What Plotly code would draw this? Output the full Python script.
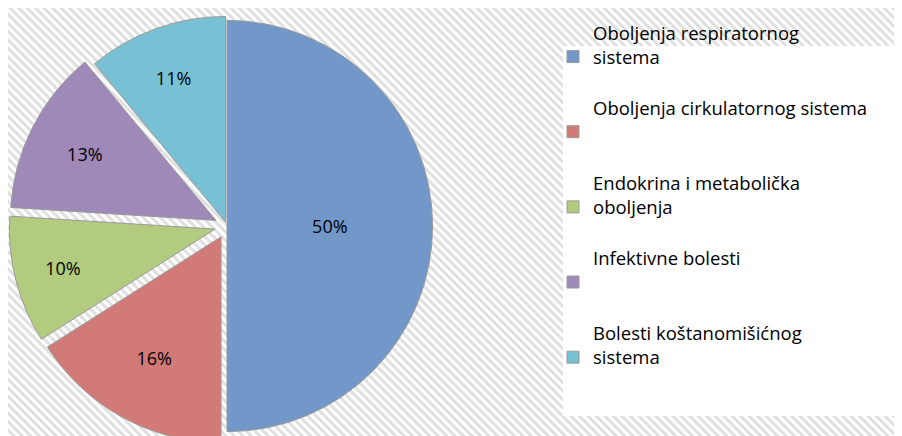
import base64
import plotly.graph_objects as go

# ---- data ----
categories = [
    "Oboljenja respiratornog<br>sistema<br> ",
    "Oboljenja cirkulatornog sistema<br> <br> ",
    "Endokrina i metabolička<br>oboljenja<br> ",
    "Infektivne bolesti<br> <br> ",
    "Bolesti koštanomišićnog<br>sistema<br> ",
]
values = [50, 16, 10, 13, 11]
colors = ["#7198c9", "#d27a77", "#b2cb7f", "#9e89b9", "#78c0d4"]
pulls = [0, 0.06, 0.06, 0.06, 0.02]

W, H = 902, 436
FONT = "Open Sans, Lato, sans-serif"

# hatched background (diagonal stripes)
svg = (
    f"<svg xmlns='http://www.w3.org/2000/svg' width='{W}' height='{H}'>"
    "<defs><pattern id='p' width='6' height='6' patternUnits='userSpaceOnUse' "
    "patternTransform='rotate(-45)'><rect width='3' height='6' fill='#e0e0e0'/></pattern></defs>"
    f"<rect width='{W}' height='{H}' fill='white'/>"
    f"<rect width='{W}' height='{H}' fill='url(#p)'/></svg>"
)
bg_src = "data:image/svg+xml;base64," + base64.b64encode(svg.encode()).decode()

fig = go.Figure(
    go.Pie(
        labels=categories,
        values=values,
        sort=False,
        direction="clockwise",
        rotation=0,
        pull=pulls,
        marker=dict(colors=colors, line=dict(color="#9a9a9a", width=1)),
        textinfo="percent",
        textposition="inside",
        insidetextorientation="horizontal",
        textfont=dict(family=FONT, size=18, color="black"),
        domain=dict(x=[0, 438 / W], y=[0, 1]),
        hoverinfo="label+percent",
    )
)

fig.update_layout(
    width=W,
    height=H,
    margin=dict(l=0, r=0, t=0, b=0),
    paper_bgcolor="white",
    plot_bgcolor="white",
    font=dict(family=FONT, size=18.5, color="black"),
    showlegend=True,
    legend=dict(
        x=545 / W,
        xanchor="left",
        y=1 - 6 / H,
        yanchor="top",
        bgcolor="rgba(0,0,0,0)",
        font=dict(family=FONT, size=18.5, color="black"),
        valign="middle",
    ),
    images=[
        dict(
            source=bg_src,
            xref="paper",
            yref="paper",
            x=0,
            y=1,
            sizex=1,
            sizey=1,
            xanchor="left",
            yanchor="top",
            sizing="stretch",
            layer="below",
        )
    ],
    shapes=[
        dict(
            type="rect",
            xref="paper",
            yref="paper",
            x0=555 / W,
            x1=1,
            y0=1 - 408 / H,
            y1=1 - 38 / H,
            fillcolor="white",
            line=dict(width=0),
            layer="below",
        )
    ],
)

fig.write_html("out.html")
